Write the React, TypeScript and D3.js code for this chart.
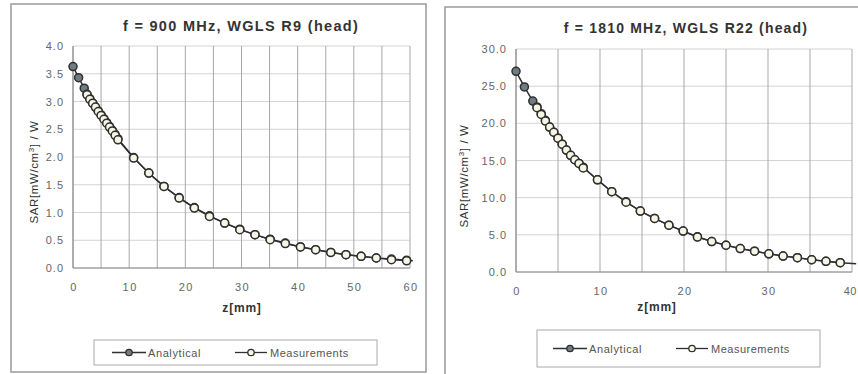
import React from "react";
import * as d3 from "d3";

// ---------- Data ----------
// Left chart: f = 900 MHz, WGLS R9 (head)
const LEFT_TITLE = "f = 900 MHz, WGLS R9 (head)";
const LEFT_Z = [0, 1, 2, 2.5, 3, 3.5, 4, 4.5, 5, 5.5, 6, 6.5, 7, 7.5, 8, 10.8, 13.5, 16.2, 18.9, 21.6, 24.3, 27, 29.7, 32.4, 35.1, 37.8, 40.5, 43.2, 45.9, 48.6, 51.3, 54, 56.7, 59.4, 60.5];
const LEFT_ANALYTICAL = [3.63, 3.43, 3.24, 3.13, 3.05, 2.97, 2.9, 2.83, 2.76, 2.69, 2.62, 2.55, 2.48, 2.41, 2.33, 1.99, 1.71, 1.47, 1.27, 1.09, 0.94, 0.81, 0.7, 0.6, 0.52, 0.45, 0.38, 0.33, 0.28, 0.24, 0.21, 0.18, 0.16, 0.14, 0.13];
const LEFT_MEAS_Z = [2.5, 3, 3.5, 4, 4.5, 5, 5.5, 6, 6.5, 7, 7.5, 8, 10.8, 13.5, 16.2, 18.9, 21.6, 24.3, 27, 29.7, 32.4, 35.1, 37.8, 40.5, 43.2, 45.9, 48.6, 51.3, 54, 56.7, 59.4];
const LEFT_MEAS = [3.12, 3.04, 2.97, 2.9, 2.82, 2.75, 2.68, 2.61, 2.54, 2.47, 2.39, 2.31, 1.98, 1.71, 1.47, 1.26, 1.08, 0.93, 0.81, 0.69, 0.6, 0.51, 0.44, 0.38, 0.33, 0.28, 0.24, 0.21, 0.18, 0.15, 0.13];
const LEFT_X_TICKS = [0, 10, 20, 30, 40, 50, 60];
const LEFT_Y_TICKS = [0, 0.5, 1, 1.5, 2, 2.5, 3, 3.5, 4];

// Right chart: f = 1810 MHz, WGLS R22 (head)
const RIGHT_TITLE = "f = 1810 MHz, WGLS R22 (head)";
const RIGHT_Z = [0, 1, 2, 2.5, 3, 3.5, 4, 4.5, 5, 5.5, 6, 6.5, 7, 7.5, 8, 9.7, 11.4, 13.1, 14.8, 16.5, 18.2, 19.9, 21.6, 23.3, 25.0, 26.7, 28.4, 30.1, 31.8, 33.5, 35.2, 36.9, 38.6, 40.5];
const RIGHT_ANALYTICAL = [27.0, 24.9, 23.0, 22.2, 21.3, 20.4, 19.5, 18.8, 18.0, 17.2, 16.4, 15.7, 15.1, 14.6, 14.1, 12.4, 10.8, 9.45, 8.2, 7.2, 6.3, 5.5, 4.75, 4.1, 3.6, 3.15, 2.8, 2.45, 2.15, 1.92, 1.65, 1.44, 1.26, 1.1];
const RIGHT_MEAS_Z = [2.5, 3, 3.5, 4, 4.5, 5, 5.5, 6, 6.5, 7, 7.5, 8, 9.7, 11.4, 13.1, 14.8, 16.5, 18.2, 19.9, 21.6, 23.3, 25.0, 26.7, 28.4, 30.1, 31.8, 33.5, 35.2, 36.9, 38.6];
const RIGHT_MEAS = [22.1, 21.2, 20.3, 19.5, 18.8, 18.0, 17.2, 16.4, 15.7, 15.1, 14.6, 14.0, 12.4, 10.8, 9.4, 8.2, 7.2, 6.3, 5.5, 4.7, 4.1, 3.6, 3.15, 2.8, 2.45, 2.15, 1.92, 1.65, 1.44, 1.26];
const RIGHT_X_TICKS = [0, 10, 20, 30, 40];
const RIGHT_Y_TICKS = [0, 5, 10, 15, 20, 25, 30];

const LEGEND_NAMES = ["Analytical", "Measurements"];
const X_TITLE = "z[mm]";

const FONT = "'Liberation Sans', Arial, sans-serif";
const PAGE_W = 858;

type ChartProps = {
  title: string;
  z: number[];
  analytical: number[];
  measZ: number[];
  meas: number[];
  xTicks: number[];
  yTicks: number[];
  xMax: number;
  yMax: number;
  gridStepX: number;
  gridStepY: number;
  plot: { x0: number; x1: number; y0: number; y1: number };
  panel: { x: number; y: number; w: number; h: number };
  titlePos: { x: number; y: number; size: number; ls: number };
  xTitlePos: { x: number; y: number };
  yTitlePos: { x: number; y: number };
  legend: { x: number; y: number; w: number; h: number; item1: number; item2: number };
  markerR: number;
};

function Chart(p: ChartProps) {
  const xs = d3.scaleLinear().domain([0, p.xMax]).range([p.plot.x0, p.plot.x1]);
  const ys = d3.scaleLinear().domain([0, p.yMax]).range([p.plot.y0, p.plot.y1]);
  const gridX = d3.range(0, p.xMax + 1e-9, p.gridStepX);
  const gridY = d3.range(0, p.yMax + 1e-9, p.gridStepY);
  const line = d3.line<[number, number]>().x((d) => xs(d[0])).y((d) => ys(d[1]));
  const aPts: [number, number][] = p.z.map((z, i) => [z, p.analytical[i]]);
  const mPts: [number, number][] = p.measZ.map((z, i) => [z, p.meas[i]]);
  // last analytical point is the end of the curve (no marker)
  const aMarkers = aPts.slice(0, aPts.length - 1);
  const stroke = "#2f2f2f";
  const aFill = "#6f7c82";
  const mFill = "#f7f5e6";
  const lg = p.legend;
  const ly = lg.y + lg.h / 2;
  return (
    <g>
      <rect x={p.panel.x} y={p.panel.y} width={p.panel.w} height={p.panel.h} fill="#fff" stroke="#9a9a9a" strokeWidth={1.5} />
      {gridY.map((v) => (
        <line key={"gy" + v} x1={p.plot.x0} x2={p.plot.x1} y1={ys(v)} y2={ys(v)} stroke="#d4d4d4" strokeWidth={1} />
      ))}
      {gridX.map((v) => (
        <line key={"gx" + v} x1={xs(v)} x2={xs(v)} y1={p.plot.y0} y2={p.plot.y1} stroke="#a8a8a8" strokeWidth={1} />
      ))}
      <line x1={p.plot.x0} x2={p.plot.x0} y1={p.plot.y0} y2={p.plot.y1} stroke="#888" strokeWidth={1} />
      <line x1={p.plot.x0} x2={p.plot.x1} y1={p.plot.y0} y2={p.plot.y0} stroke="#888" strokeWidth={1} />
      {p.yTicks.map((v) => (
        <text key={"yt" + v} x={p.plot.x0 - 9} y={ys(v) + 4} textAnchor="end" fontSize={11} letterSpacing={1} fill="#666" fontFamily={FONT}>
          {v.toFixed(1)}
        </text>
      ))}
      {p.xTicks.map((v) => {
        const cx = xs(v) + 1;
        const clip = cx + 9 > PAGE_W;
        return (
          <text
            key={"xt" + v}
            x={clip ? PAGE_W - 1 : cx}
            y={p.plot.y0 + 23}
            textAnchor={clip ? "end" : "middle"}
            fontSize={11}
            letterSpacing={clip ? 0.5 : 1.5}
            fill="#666"
            fontFamily={FONT}
          >
            {v}
          </text>
        );
      })}
      <text x={p.titlePos.x} y={p.titlePos.y} textAnchor="middle" fontSize={p.titlePos.size} letterSpacing={p.titlePos.ls} fontWeight="bold" fill="#333" fontFamily={FONT}>
        {p.title}
      </text>
      <text x={p.xTitlePos.x} y={p.xTitlePos.y} textAnchor="middle" fontSize={12} letterSpacing={0.8} fontWeight="bold" fill="#333" fontFamily={FONT}>
        {X_TITLE}
      </text>
      <text
        transform={`translate(${p.yTitlePos.x},${p.yTitlePos.y}) rotate(-90)`}
        textAnchor="middle"
        fontSize={11.5}
        letterSpacing={0.6}
        fill="#333"
        fontFamily={FONT}
      >
        SAR[mW/cm<tspan dy={-4} fontSize={8}>3</tspan>
        <tspan dy={4}>] / W</tspan>
      </text>
      <path d={line(aPts) || ""} fill="none" stroke={stroke} strokeWidth={1.5} />
      <path d={line(mPts) || ""} fill="none" stroke={stroke} strokeWidth={1.2} />
      {aMarkers.map((d, i) => (
        <circle key={"a" + i} cx={xs(d[0])} cy={ys(d[1])} r={p.markerR} fill={aFill} stroke={stroke} strokeWidth={1.5} />
      ))}
      {mPts.map((d, i) => (
        <circle key={"m" + i} cx={xs(d[0])} cy={ys(d[1])} r={p.markerR} fill={mFill} stroke={stroke} strokeWidth={1.5} />
      ))}
      <rect x={lg.x} y={lg.y} width={lg.w} height={lg.h} fill="#fff" stroke="#aaa" strokeWidth={1} />
      <line x1={lg.item1} x2={lg.item1 + 34} y1={ly} y2={ly} stroke={stroke} strokeWidth={1.3} />
      <circle cx={lg.item1 + 17} cy={ly} r={3.2} fill={aFill} stroke={stroke} strokeWidth={1.3} />
      <text x={lg.item1 + 36} y={ly + 4} fontSize={11} letterSpacing={0.6} fill="#555" fontFamily={FONT}>
        {LEGEND_NAMES[0]}
      </text>
      <line x1={lg.item2} x2={lg.item2 + 32} y1={ly} y2={ly} stroke={stroke} strokeWidth={1.3} />
      <circle cx={lg.item2 + 16} cy={ly} r={3.2} fill={mFill} stroke={stroke} strokeWidth={1.3} />
      <text x={lg.item2 + 35} y={ly + 4} fontSize={11} letterSpacing={0.5} fill="#555" fontFamily={FONT}>
        {LEGEND_NAMES[1]}
      </text>
    </g>
  );
}

export default function App() {
  return (
    <svg width={858} height={374} style={{ position: "absolute", left: 0, top: 0, background: "#fff" }}>
      <rect x={0} y={0} width={858} height={374} fill="#fff" />
      <Chart
        title={LEFT_TITLE}
        z={LEFT_Z}
        analytical={LEFT_ANALYTICAL}
        measZ={LEFT_MEAS_Z}
        meas={LEFT_MEAS}
        xTicks={LEFT_X_TICKS}
        yTicks={LEFT_Y_TICKS}
        xMax={60}
        yMax={4}
        gridStepX={5}
        gridStepY={0.5}
        plot={{ x0: 73, x1: 410, y0: 268, y1: 46 }}
        panel={{ x: 11, y: 4, w: 415, h: 368 }}
        titlePos={{ x: 241, y: 31, size: 14.5, ls: 1.3 }}
        xTitlePos={{ x: 242, y: 312 }}
        yTitlePos={{ x: 38, y: 172 }}
        legend={{ x: 94, y: 340, w: 283, h: 25, item1: 112, item2: 235 }}
        markerR={4}
      />
      <Chart
        title={RIGHT_TITLE}
        z={RIGHT_Z}
        analytical={RIGHT_ANALYTICAL}
        measZ={RIGHT_MEAS_Z}
        meas={RIGHT_MEAS}
        xTicks={RIGHT_X_TICKS}
        yTicks={RIGHT_Y_TICKS}
        xMax={40}
        yMax={30}
        gridStepX={5}
        gridStepY={5}
        plot={{ x0: 516, x1: 852, y0: 272, y1: 49 }}
        panel={{ x: 445, y: 7, w: 430, h: 380 }}
        titlePos={{ x: 686, y: 33, size: 14, ls: 1.2 }}
        xTitlePos={{ x: 657, y: 311 }}
        yTitlePos={{ x: 468, y: 176 }}
        legend={{ x: 537, y: 330, w: 283, h: 37, item1: 553, item2: 676 }}
        markerR={4}
      />
    </svg>
  );
}
